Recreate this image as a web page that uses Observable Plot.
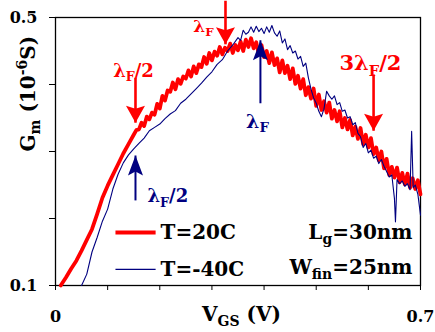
<!DOCTYPE html>
<html><head><meta charset="utf-8">
<script src="https://cdn.jsdelivr.net/npm/d3@7"></script>
<script src="https://cdn.jsdelivr.net/npm/@observablehq/plot@0.6"></script>
<style>
body{margin:0;background:#fff;}
#chart svg{display:block;}
</style></head><body><div id="chart"></div>
<script>
// ---- data (VGS in V, Gm in 1e-6 S) ----
const red20C = [
[0.010,0.100],[0.020,0.112],[0.030,0.125],[0.040,0.137],[0.050,0.152],[0.060,0.168],[0.070,0.184],[0.080,0.207],
[0.090,0.231],[0.100,0.249],[0.110,0.265],[0.120,0.281],[0.130,0.297],[0.140,0.311],[0.150,0.325],[0.155,0.332],
[0.160,0.333],[0.165,0.343],[0.170,0.338],[0.175,0.352],[0.180,0.348],[0.185,0.358],[0.190,0.355],[0.195,0.371],
[0.200,0.364],[0.205,0.383],[0.210,0.376],[0.215,0.391],[0.220,0.389],[0.225,0.403],[0.230,0.393],[0.235,0.408],
[0.240,0.401],[0.245,0.412],[0.250,0.409],[0.255,0.421],[0.260,0.412],[0.265,0.427],[0.270,0.417],[0.275,0.430],
[0.280,0.426],[0.285,0.441],[0.290,0.431],[0.295,0.447],[0.300,0.436],[0.305,0.449],[0.310,0.443],[0.315,0.456],
[0.320,0.445],[0.325,0.455],[0.330,0.450],[0.335,0.461],[0.340,0.447],[0.345,0.459],[0.350,0.451],[0.355,0.464],
[0.360,0.450],[0.365,0.467],[0.370,0.456],[0.375,0.469],[0.380,0.454],[0.385,0.463],[0.390,0.445],[0.395,0.459],
[0.400,0.441],[0.405,0.450],[0.410,0.432],[0.415,0.448],[0.420,0.429],[0.425,0.439],[0.430,0.418],[0.435,0.436],
[0.440,0.417],[0.445,0.428],[0.450,0.408],[0.455,0.424],[0.460,0.401],[0.465,0.413],[0.470,0.394],[0.475,0.408],
[0.480,0.384],[0.485,0.396],[0.490,0.379],[0.495,0.394],[0.500,0.368],[0.505,0.385],[0.510,0.362],[0.515,0.375],
[0.520,0.358],[0.525,0.373],[0.530,0.349],[0.535,0.362],[0.540,0.345],[0.545,0.360],[0.550,0.336],[0.555,0.350],
[0.560,0.333],[0.565,0.347],[0.570,0.324],[0.575,0.337],[0.580,0.319],[0.585,0.335],[0.590,0.311],[0.595,0.325],
[0.600,0.306],[0.605,0.320],[0.610,0.296],[0.615,0.306],[0.620,0.287],[0.625,0.300],[0.630,0.275],[0.635,0.289],
[0.640,0.265],[0.645,0.277],[0.650,0.261],[0.655,0.276],[0.660,0.254],[0.665,0.268],[0.670,0.251],[0.675,0.267],
[0.680,0.246],[0.685,0.260],[0.690,0.244],[0.695,0.257],[0.700,0.236]
];
const blue40C = [
[0.050,0.100],[0.060,0.117],[0.070,0.150],[0.080,0.172],[0.090,0.196],[0.100,0.214],[0.110,0.244],[0.120,0.266],
[0.130,0.283],[0.140,0.295],[0.150,0.304],[0.160,0.312],[0.170,0.320],[0.180,0.331],[0.190,0.336],[0.200,0.341],
[0.210,0.349],[0.220,0.356],[0.230,0.361],[0.240,0.372],[0.250,0.378],[0.260,0.386],[0.270,0.394],[0.280,0.402],
[0.290,0.411],[0.300,0.419],[0.310,0.430],[0.320,0.437],[0.330,0.450],[0.340,0.459],[0.350,0.470],[0.355,0.466],
[0.360,0.481],[0.365,0.475],[0.370,0.478],[0.375,0.486],[0.380,0.478],[0.385,0.487],[0.390,0.479],[0.395,0.484],
[0.400,0.476],[0.405,0.486],[0.410,0.478],[0.415,0.488],[0.420,0.477],[0.425,0.472],[0.430,0.480],[0.435,0.462],
[0.440,0.468],[0.445,0.452],[0.450,0.458],[0.455,0.447],[0.460,0.450],[0.465,0.438],[0.470,0.442],[0.475,0.427],
[0.480,0.432],[0.485,0.410],[0.490,0.393],[0.495,0.380],[0.500,0.372],[0.505,0.360],[0.510,0.352],[0.515,0.364],
[0.520,0.390],[0.525,0.383],[0.530,0.378],[0.535,0.383],[0.540,0.370],[0.545,0.373],[0.550,0.360],[0.555,0.362],
[0.560,0.350],[0.565,0.352],[0.570,0.340],[0.575,0.343],[0.580,0.327],[0.585,0.322],[0.590,0.306],[0.595,0.312],
[0.600,0.298],[0.605,0.302],[0.610,0.290],[0.615,0.293],[0.620,0.282],[0.625,0.288],[0.630,0.278],[0.635,0.270],
[0.640,0.262],[0.645,0.265],[0.650,0.230],[0.652,0.195],[0.655,0.258],[0.660,0.252],[0.665,0.256],[0.670,0.248],
[0.675,0.252],[0.680,0.243],[0.683,0.330],[0.686,0.246],[0.690,0.250],[0.695,0.236],[0.700,0.205]
];
const xTicks = [0, 0.1, 0.2, 0.3, 0.4, 0.5, 0.6, 0.7];
const xTickLabels = ["0", "", "", "", "", "", "", "0.7"];
const yTicks = [0.1, 0.2, 0.3, 0.4, 0.5];
const yTickLabels = ["0.1", "", "", "", "0.5"];
const seriesNames = ["T=20C", "T=-40C"];
const xTitle = "V_{GS} (V)";
const yTitle = "G_{m} (10^{-6}S)";

// ---- annotations (placed in data coordinates) ----
const redArrows  = [{x:0.1534, y1:0.410, y2:0.343}, {x:0.326, y1:0.525, y2:0.460}, {x:0.610, y1:0.415, y2:0.331}];
const blueArrows = [{x:0.393, y1:0.372, y2:0.466}, {x:0.1534, y1:0.227, y2:0.294}];
const redLabels  = [{x:0.1496, y:0.420, t:"λ_{F}/2", fs:18}, {x:0.2838, y:0.4866, t:"λ_{F}", fs:17}, {x:0.604, y:0.4313, t:"3λ_{F}/2", fs:21}];
const blueLabels = [{x:0.3874, y:0.3448, t:"λ_{F}", fs:19}];
const blueLabels2 = [{x:0.1764, y:0.2328, t:"λ_{F}/2", fs:18}];
const legendRows = [{x1:0.115, x2:0.192, y:0.179, tx:0.2014, name:seriesNames[0]}, {x1:0.115, x2:0.192, y:0.124, tx:0.2014, name:seriesNames[1]}];
const deviceNotes = [{x:0.6847, y:0.179, t:"L_{g}=30nm"}, {x:0.6847, y:0.1269, t:"W_{fin}=25nm"}];

const RED = "#ff0000", BLUE = "#000080";
const FAM = "DejaVu Serif";
const FONT = "'DejaVu Serif', 'Liberation Serif', serif";
const headRed = {draw(ctx){ ctx.moveTo(0,0); ctx.lineTo(9.5,17); ctx.lineTo(0,14); ctx.lineTo(-9.5,17); ctx.closePath(); }};
const headBlue = {draw(ctx){ ctx.moveTo(0,0); ctx.lineTo(7.5,20); ctx.lineTo(0,16); ctx.lineTo(-7.5,20); ctx.closePath(); }};

const chart = Plot.plot({
  width: 435, height: 332,
  marginLeft: 55, marginRight: 15, marginTop: 17, marginBottom: 47,
  x: {domain: [0, 0.7]},
  y: {domain: [0.1, 0.5]},
  style: {fontFamily: FONT, fontWeight: "bold"},
  marks: [
    Plot.frame({stroke: "black", strokeWidth: 1.3}),
    Plot.axisX({ticks: xTicks, tickSize: 5, tickPadding: 20, fontSize: 16, label: null, fontFamily: FAM,
      tickFormat: d => xTickLabels[xTicks.findIndex(v => Math.abs(v - d) < 1e-9)] ?? ""}),
    Plot.axisY({ticks: yTicks, tickSize: 6, tickPadding: 12, fontSize: 16, label: null, fontFamily: FAM,
      tickFormat: d => yTickLabels[yTicks.findIndex(v => Math.abs(v - d) < 1e-9)] ?? ""}),
    Plot.line(red20C, {x: d => d[0], y: d => d[1], stroke: RED, strokeWidth: 3.8, strokeLinejoin: "round"}),
    Plot.line(blue40C, {x: d => d[0], y: d => d[1], stroke: BLUE, strokeWidth: 1.1}),
    // arrows
    Plot.link(redArrows, {x1: "x", x2: "x", y1: "y1", y2: "y2", stroke: RED, strokeWidth: 2.6}),
    Plot.dot(redArrows, {x: "x", y: "y2", symbol: headRed, r: 5, fill: RED, stroke: null, rotate: 180}),
    Plot.link(blueArrows, {x1: "x", x2: "x", y1: "y1", y2: "y2", stroke: BLUE, strokeWidth: 2}),
    Plot.dot(blueArrows, {x: "x", y: "y2", symbol: headBlue, r: 5, fill: BLUE, stroke: null}),
    // annotation labels
    ...redLabels.map(d => Plot.text([d], {x: "x", y: "y", text: "t", fill: RED, fontSize: d.fs, fontFamily: FAM, textAnchor: "middle", lineAnchor: "middle"})),
    ...blueLabels.map(d => Plot.text([d], {x: "x", y: "y", text: "t", fill: BLUE, fontSize: d.fs, fontFamily: FAM, textAnchor: "middle", lineAnchor: "middle"})),
    ...blueLabels2.map(d => Plot.text([d], {x: "x", y: "y", text: "t", fill: BLUE, fontSize: d.fs, fontFamily: FAM, textAnchor: "start", lineAnchor: "middle"})),
    // legend
    Plot.link([legendRows[0]], {x1: "x1", x2: "x2", y1: "y", y2: "y", stroke: RED, strokeWidth: 4}),
    Plot.link([legendRows[1]], {x1: "x1", x2: "x2", y1: "y", y2: "y", stroke: BLUE, strokeWidth: 1.1}),
    Plot.text(legendRows, {x: "tx", y: "y", text: "name", fill: "black", fontSize: 20, fontFamily: FAM, textAnchor: "start", lineAnchor: "middle"}),
    Plot.text(deviceNotes, {x: "x", y: "y", text: "t", fill: "black", fontSize: 20, fontFamily: FAM, textAnchor: "end", lineAnchor: "middle"}),
    // axis titles
    Plot.text([xTitle], {frameAnchor: "bottom", dx: 3.5, dy: 29.5, text: d => d, fontSize: 20, fontFamily: FAM, lineAnchor: "middle", fill: "black"}),
    Plot.text([yTitle], {frameAnchor: "left", dx: -27, text: d => d, fontSize: 20, fontFamily: FAM, rotate: -90, lineAnchor: "middle", fill: "black"})
  ]
});
document.getElementById("chart").appendChild(chart);

// turn _{..} / ^{..} into sub/superscript tspans
function richify(svg) {
  svg.querySelectorAll("text").forEach(t => {
    t.setAttribute("font-family", FAM);
    t.setAttribute("font-weight", "bold");
    const s = t.textContent;
    if (!/[_^]\{/.test(s)) return;
    const fs = parseFloat(getComputedStyle(t).fontSize) || 20;
    while (t.firstChild) t.removeChild(t.firstChild);
    const re = /([_^])\{([^}]*)\}|([^_^]+)/g;
    let m, shift = 0;
    while ((m = re.exec(s))) {
      const ts = document.createElementNS("http://www.w3.org/2000/svg", "tspan");
      if (m[3] !== undefined) {
        ts.textContent = m[3];
        if (shift) { ts.setAttribute("dy", -shift); shift = 0; }
      } else {
        const d = (m[1] === "_" ? 0.25 : -0.38) * fs;
        ts.setAttribute("dy", d - shift);
        shift = d;
        ts.setAttribute("font-size", 0.7 * fs);
        ts.textContent = m[2];
      }
      t.appendChild(ts);
    }
  });
}
richify(chart);
</script>
</body></html>
